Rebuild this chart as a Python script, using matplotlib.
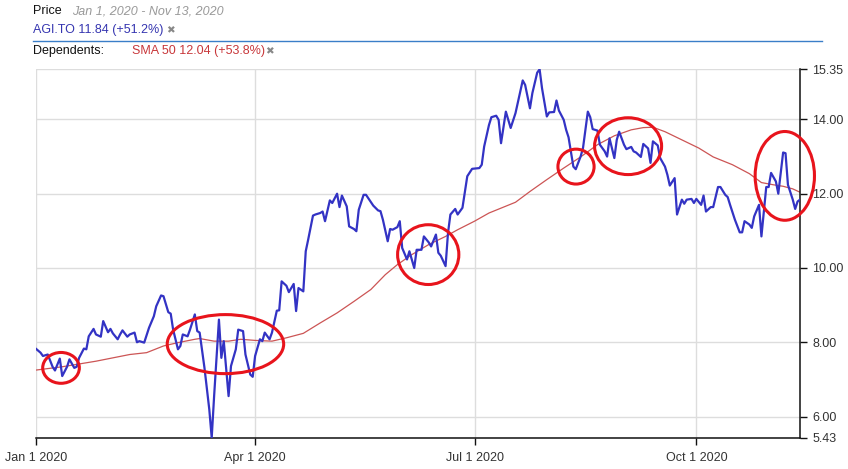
import pandas as pd
import matplotlib
matplotlib.use("Agg")
import matplotlib.pyplot as plt
import matplotlib.dates as mdates
from matplotlib.patches import Ellipse
from matplotlib.lines import Line2D

plt.rcParams["font.family"] = ["Liberation Sans", "DejaVu Sans"]

start = pd.Timestamp("2020-01-01")

# AGI.TO close, days counted from Jan 1 2020
price_day = [0, 2, 3, 5, 7, 8, 10, 11, 13, 14, 16, 17, 18, 20, 21, 22, 24, 25, 27, 28,
             30, 31, 32, 34, 35, 36, 38, 39, 41, 42, 43, 45, 47, 49, 50, 52, 53, 55, 56, 57,
             59, 60, 61, 63, 64, 66, 67, 68, 70, 72, 73, 74, 76, 77, 78, 80, 81, 83, 84, 86,
             87, 89, 90, 91, 93, 94, 95, 97, 98, 100, 101, 102, 104, 105, 107, 108, 109, 111, 112, 113,
             115, 116, 118, 119, 120, 122, 123, 125, 126, 127, 129, 130, 132, 133, 134, 136, 137, 139, 140, 142,
             143, 144, 146, 147, 148, 150, 151, 152, 154, 155, 157, 158, 160, 161, 163, 164, 166, 167, 168, 170,
             171, 172, 174, 175, 177, 178, 179, 181, 184, 185, 186, 188, 189, 191, 192, 193, 195, 196, 197, 199,
             202, 203, 205, 206, 208, 209, 210, 212, 213, 215, 216, 217, 219, 220, 221, 223, 224, 226, 227, 229,
             230, 231, 233, 234, 236, 237, 238, 240, 241, 242, 244, 245, 247, 248, 249, 251, 252, 254, 255, 256,
             258, 259, 261, 262, 263, 265, 266, 268, 269, 270, 272, 273, 274, 276, 277, 278, 280, 281, 283, 284,
             286, 287, 288, 290, 292, 293, 294, 296, 297, 298, 300, 301, 303, 304, 305, 307, 308, 310, 311, 312,
             314, 315, 316, 317]
price = [7.83, 7.72, 7.63, 7.67, 7.34, 7.24, 7.56, 7.09, 7.34, 7.54, 7.31, 7.34, 7.58, 7.83, 7.81, 8.16, 8.36, 8.21, 8.15, 8.57,
         8.27, 8.36, 8.24, 8.08, 8.21, 8.32, 8.15, 8.21, 8.26, 8.00, 8.03, 7.99, 8.39, 8.70, 8.97, 9.26, 9.24, 8.81, 8.77, 8.34,
         7.81, 7.90, 8.21, 8.16, 8.34, 8.75, 8.30, 8.26, 7.31, 6.19, 5.43, 6.55, 8.61, 7.58, 8.03, 6.55, 7.36, 7.81, 8.34, 8.30,
         7.67, 7.13, 7.07, 7.63, 8.08, 8.03, 8.26, 8.08, 8.26, 8.85, 8.86, 9.64, 9.52, 9.35, 9.57, 8.84, 9.46, 9.37, 10.45, 10.76,
         11.41, 11.44, 11.48, 11.52, 11.26, 11.82, 11.75, 12.00, 11.64, 11.95, 11.66, 11.12, 11.05, 10.99, 11.57, 11.97, 11.97, 11.78, 11.68, 11.55,
         11.53, 11.30, 10.72, 11.05, 11.03, 11.10, 11.26, 10.54, 10.23, 10.45, 10.00, 10.49, 10.49, 10.85, 10.69, 10.58, 10.90, 10.41, 10.33, 10.05,
         10.94, 11.44, 11.59, 11.44, 11.62, 12.05, 12.47, 12.67, 12.69, 12.78, 13.27, 13.85, 14.06, 14.10, 13.99, 13.36, 14.21, 13.99, 13.77, 14.17,
         15.05, 14.93, 14.30, 14.71, 15.26, 15.35, 14.84, 14.08, 14.19, 14.20, 14.51, 14.24, 13.99, 13.72, 13.52, 12.73, 12.66, 13.00, 13.23, 14.21,
         14.06, 13.74, 13.70, 13.32, 13.14, 13.00, 13.49, 12.96, 13.45, 13.67, 13.32, 13.20, 13.26, 13.14, 13.11, 12.99, 13.34, 13.22, 12.83, 13.41,
         13.30, 12.96, 12.73, 12.51, 12.22, 12.42, 11.44, 11.84, 11.73, 11.84, 11.86, 11.75, 11.86, 11.70, 11.95, 11.52, 11.64, 11.64, 12.18, 12.18,
         11.97, 11.91, 11.70, 11.30, 10.96, 10.96, 11.26, 11.17, 11.08, 11.39, 11.70, 10.85, 12.18, 12.18, 12.56, 12.33, 12.00, 13.11, 13.09, 12.24,
         11.84, 11.59, 11.79, 11.84]

# SMA 50
sma_day = [0, 11, 25, 39, 46, 53, 59, 66, 68, 74, 80, 85, 91, 98, 104, 111, 118, 125, 132, 139,
           145, 150, 156, 163, 170, 175, 182, 188, 199, 205, 212, 219, 226, 233, 240, 247, 252, 256, 261, 268,
           275, 281, 289, 296, 301, 306, 310, 314, 317]
sma = [7.25, 7.34, 7.49, 7.67, 7.72, 7.90, 7.99, 8.08, 8.10, 8.03, 8.03, 8.08, 8.05, 8.03, 8.12, 8.24, 8.52, 8.79, 9.10, 9.42,
       9.82, 10.09, 10.36, 10.63, 10.85, 11.03, 11.26, 11.48, 11.77, 12.06, 12.38, 12.69, 12.99, 13.32, 13.56, 13.72, 13.78, 13.79, 13.67, 13.45,
       13.23, 12.99, 12.78, 12.54, 12.30, 12.24, 12.20, 12.13, 12.04]

# hand-drawn red circles: centre day, centre price, width (days), height (price)
circle_day = [10.5, 78.7, 162.8, 224.1, 245.7, 310.7]
circle_price = [7.31, 7.95, 10.36, 12.73, 13.28, 12.48]
circle_w = [15.2, 48.3, 25.4, 15.0, 27.8, 24.6]
circle_h = [0.83, 1.59, 1.61, 0.94, 1.53, 2.39]

y_ticks = [5.43, 6.00, 8.00, 10.00, 12.00, 14.00, 15.35]
x_ticks = ["2020-01-01", "2020-04-01", "2020-07-01", "2020-10-01"]
x_labels = ["Jan 1 2020", "Apr 1 2020", "Jul 1 2020", "Oct 1 2020"]

to_date = lambda days: [start + pd.Timedelta(days=d) for d in days]

fig = plt.figure(figsize=(8.48, 4.69), dpi=100)
W, H = 848, 469
ax = fig.add_axes([35.7 / W, 1 - 437.7 / H, (800 - 35.7) / W, (437.7 - 69.3) / H])

ax.plot(to_date(price_day), price, color="#3333c4", lw=1.6, zorder=3)
ax.plot(to_date(sma_day), sma, color="#cc5555", lw=0.9, zorder=2)

for d, p, w, h in zip(circle_day, circle_price, circle_w, circle_h):
    c = mdates.date2num(start + pd.Timedelta(days=d))
    ax.add_patch(Ellipse((c, p), w, h, fill=False, edgecolor="#e8141c", lw=2.2,
                         zorder=4, clip_on=False))

ax.set_xlim(start, pd.Timestamp("2020-11-13"))
ax.set_ylim(5.43, 15.35)

ax.yaxis.tick_right()
ax.set_yticks(y_ticks)
ax.set_yticklabels([f"{v:.2f}" for v in y_ticks])
ax.set_xticks(pd.to_datetime(x_ticks))
ax.set_xticklabels(x_labels)
ax.tick_params(axis="both", length=5, width=1, colors="#111111", labelsize=9,
               labelcolor="#333333")
ax.tick_params(axis="y", pad=4)
ax.tick_params(axis="x", pad=5)

for s in ["left", "top"]:
    ax.spines[s].set_visible(False)
for s in ["right", "bottom"]:
    ax.spines[s].set_color("#111111")
    ax.spines[s].set_linewidth(1.1)

ax.grid(True, color="#dddddd", lw=1)
ax.set_axisbelow(True)

# header
fig.text(33 / W, 1 - 11 / H, "Price", fontsize=9, color="#111111", va="center")
fig.text(72 / W, 1 - 11 / H, "Jan 1, 2020 - Nov 13, 2020", fontsize=9,
         color="#999999", style="italic", va="center")
fig.text(33 / W, 1 - 30 / H, "AGI.TO 11.84 (+51.2%)", fontsize=9, color="#3535b0", va="center")
fig.text(166 / W, 1 - 30 / H, "\u2716", fontsize=7.5, color="#888888", va="center")
fig.add_artist(Line2D([33 / W, 822 / W], [1 - 41 / H, 1 - 41 / H], color="#3a7ec8", lw=1))
fig.text(33 / W, 1 - 51 / H, "Dependents:", fontsize=9, color="#111111", va="center")
fig.text(132 / W, 1 - 51 / H, "SMA 50 12.04 (+53.8%)", fontsize=9, color="#c8373a", va="center")
fig.text(265 / W, 1 - 51 / H, "\u2716", fontsize=7.5, color="#888888", va="center")

fig.savefig("out.png", dpi=100)
